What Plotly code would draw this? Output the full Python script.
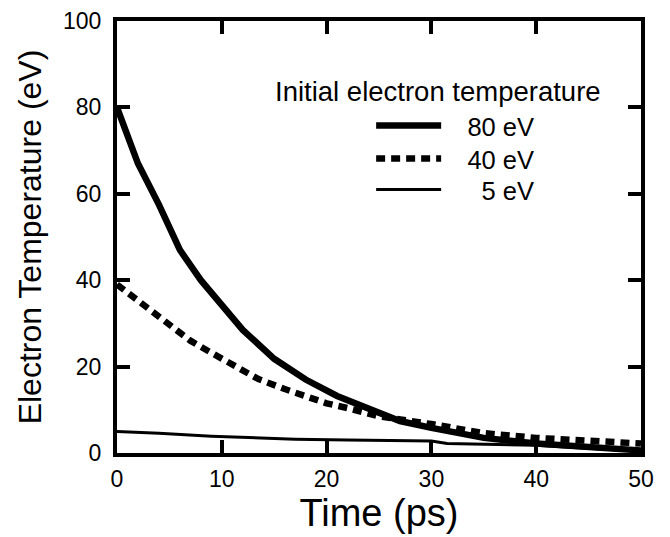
import plotly.graph_objects as go

# Time (ps) and electron temperature (eV)
t_80 = [0, 2, 4, 6, 8, 10, 12, 15, 18, 21, 24, 27, 30, 35, 40, 45, 50]
T_80 = [80, 67, 57.5, 47, 40, 34.5, 28.5, 21.8, 17, 13.2, 10.2, 7.4, 5.8, 3.5, 2.2, 1.4, 0.6]

t_40 = [0, 2.5, 5, 7, 9, 11.5, 13.5, 16, 18, 20, 22, 25, 30, 35, 40, 45, 50]
T_40 = [39, 34.4, 29.8, 26, 23.2, 19.6, 17.1, 14.8, 13.2, 11.5, 10.4, 8.5, 6.7, 4.6, 3.5, 2.8, 2.2]

t_5 = [0, 4, 9, 13, 17, 22, 30, 31.5, 36, 40, 44, 48, 50]
T_5 = [5.0, 4.6, 3.9, 3.5, 3.2, 3.0, 2.8, 2.2, 2.0, 1.8, 1.2, 0.6, 0.4]

series_names = ["&nbsp;&nbsp;&nbsp;80 eV", "&nbsp;&nbsp;&nbsp;40 eV",
                "&nbsp;&nbsp;&nbsp;&nbsp;&nbsp;5 eV"]
legend_title = "Initial electron temperature"
x_title = "Time (ps)"
y_title = "Electron Temperature (eV)"
x_ticks = [0, 10, 20, 30, 40, 50]
y_ticks = [0, 20, 40, 60, 80, 100]

FONT = "Liberation Sans, Arial, Helvetica, sans-serif"

fig = go.Figure()
fig.add_trace(go.Scatter(x=t_80, y=T_80, mode="lines", name=series_names[0],
                         legend="legend",
                         line=dict(color="black", width=6.5)))
fig.add_trace(go.Scatter(x=t_40, y=T_40, mode="lines", name=series_names[1],
                         legend="legend2",
                         line=dict(color="black", width=6.5, dash="9px,6px")))
fig.add_trace(go.Scatter(x=t_5, y=T_5, mode="lines", name=series_names[2],
                         legend="legend3",
                         line=dict(color="black", width=3)))

axis_common = dict(
    showgrid=False, zeroline=False, automargin=False,
    showline=True, linecolor="black", linewidth=4,
    mirror="allticks", ticks="inside", ticklen=13, tickwidth=3.5,
    tickcolor="black", ticklabeloverflow="allow",
    tickfont=dict(family=FONT, size=23, color="black"),
)

fig.update_xaxes(range=[0, 50], tickvals=x_ticks, **axis_common,
                 ticklabelstandoff=2,
                 title=dict(text=x_title, font=dict(family=FONT, size=38, color="black"),
                            standoff=8))
fig.update_yaxes(range=[0, 100], tickvals=y_ticks, **axis_common,
                 ticklabelstandoff=7,
                 title=dict(text=y_title, font=dict(family=FONT, size=32, color="black"),
                            standoff=13))

fig.add_annotation(text=legend_title, xref="paper", yref="paper",
                   x=0.297, y=0.836, xanchor="left", yanchor="middle",
                   showarrow=False,
                   font=dict(family=FONT, size=27.5, color="black"))

leg_common = dict(x=0.485, xanchor="left", yanchor="middle",
                  bgcolor="rgba(0,0,0,0)", borderwidth=0, itemwidth=65,
                  font=dict(family=FONT, size=25.5, color="black"))

# The page body adds an 8px offset, so the figure is 8px smaller than the window
fig.update_layout(
    width=662, height=529,
    margin=dict(l=109, r=29, t=13, b=84),
    paper_bgcolor="white", plot_bgcolor="white",
    showlegend=True,
    legend=dict(y=(327 / 432), **leg_common),
    legend2=dict(y=(294 / 432), **leg_common),
    legend3=dict(y=(263 / 432), **leg_common),
)

fig.write_html("out.html")
